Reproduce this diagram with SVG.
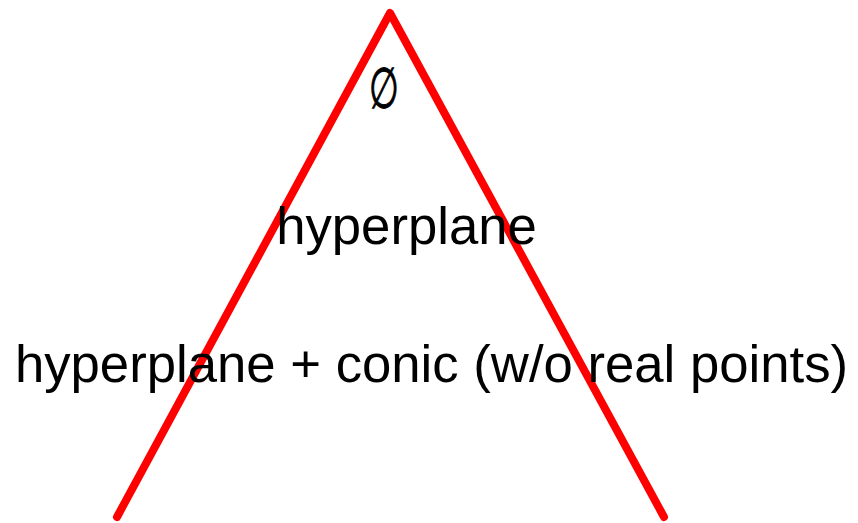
<svg xmlns="http://www.w3.org/2000/svg" width="858" height="523" viewBox="0 0 858 523">
<style>
.lbl{font-family:"Liberation Sans",Arial,sans-serif;font-size:52.7px;fill:#000;text-anchor:middle}
.sym{font-family:"Liberation Serif","DejaVu Serif",serif;font-size:52px;fill:#000;stroke:#000;stroke-width:0.9;text-anchor:middle}
.edge{fill:none;stroke:#ff0000;stroke-width:8;stroke-linecap:round;stroke-linejoin:round}
</style>
<rect width="858" height="523" fill="#fff"/>
<g id="connectors">
<polyline class="edge" points="117,517 390,13 664,517"/>
</g>
<g id="node-empty"><text class="sym" transform="translate(384,108) scale(0.66,1.1)" x="0" y="0">∅</text></g>
<g id="node-hyperplane"><text class="lbl" x="406.5" y="244">hyperplane</text></g>
<g id="node-hyperplane-conic"><text class="lbl" x="431.5" y="382">hyperplane + conic (w/o real points)</text></g>
</svg>
